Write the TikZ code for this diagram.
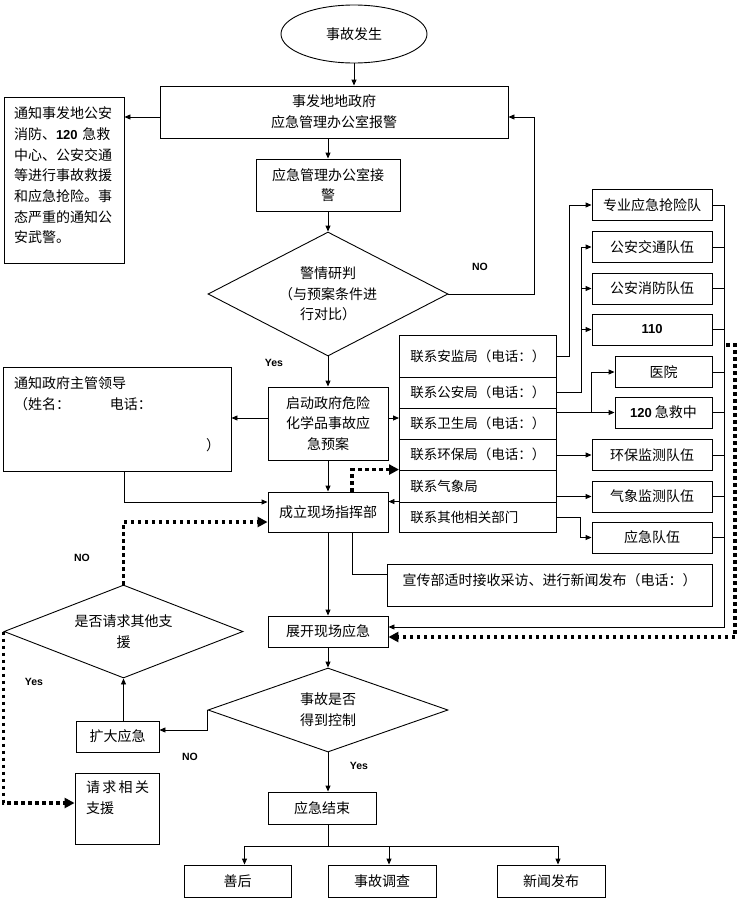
\documentclass[tikz,border=0pt]{standalone}
\usepackage{fontspec}
\setmainfont{Noto Sans CJK SC}
\newfontfamily\latin{Liberation Sans}
\usetikzlibrary{shapes.geometric,arrows.meta}

\begin{document}
\begin{tikzpicture}[x=1pt,y=-1pt,line width=0.9pt,>={Triangle[length=6pt,width=5pt]},
	font=\fontsize{14}{20.7}\selectfont,
	dotline/.style={line width=3.5pt,dash pattern=on 3.5pt off 3.5pt,-{Triangle[length=10pt,width=10pt]}},
	lbl/.style={font=\latin\bfseries\fontsize{10.5}{12}\selectfont},
	num/.style={font=\latin\bfseries\fontsize{13}{16}\selectfont}]
	\path[fill=white] (0,0) rectangle (738,900);
	
	\begin{scope}[every node/.style={draw,align=center,inner sep=2pt}]
		\node[ellipse,minimum width=146,minimum height=58] (acc) at (354,34) {事故发生};
		\node[minimum width=348,minimum height=52] (rep) at (334,112) {事发地地政府\\应急管理办公室报警};
		\node[minimum width=120,minimum height=166,text width=100,inner xsep=10,align=left] (inform) at (64,180) {通知事发地公安\\消防、{\latin\bfseries\fontsize{13}{16}\selectfont 120} 急救\\中心、公安交通\\等进行事故救援\\和应急抢险。事\\态严重的通知公\\安武警。\par\kern9pt};
		\node[minimum width=144,minimum height=52] (recv) at (328,185) {应急管理办公室接\\警};
		\node[minimum width=120,minimum height=73] (plan) at (328,423.5) {启动政府危险\\化学品事故应\\急预案};
		\node[minimum width=228,minimum height=104,text width=206,inner xsep=11,align=left] (leader) at (117,419) {通知政府主管领导\\（姓名：\hspace{40pt}电话：\\\mbox{}\\\mbox{}\hfill）\par\kern9pt};
		\node[minimum width=120,minimum height=40] (cmd) at (328,512) {成立现场指挥部};
		\node[minimum width=325,minimum height=42,text width=305,inner xsep=10,align=center] (pr) at (549.5,585) {宣传部适时接收采访、进行新闻发布（电话：）\par\kern10pt};
		\node[minimum width=120,minimum height=31] (unfold) at (328,631.5) {展开现场应急};
		\node[minimum width=83,minimum height=31] (expand) at (117.5,736.5) {扩大应急};
		\node[minimum width=84,minimum height=71,text width=62,inner xsep=11,align=left] (help) at (117,808.5) {请\,求\,相\,关\\支援\par\kern22pt};
		\node[minimum width=108,minimum height=32] (fin) at (322,808) {应急结束};
		\node[minimum width=107,minimum height=32] (sh) at (237.5,881) {善后};
		\node[minimum width=108,minimum height=32] (dc) at (382,881) {事故调查};
		\node[minimum width=108,minimum height=32] (xw) at (551,881) {新闻发布};
	\end{scope}
	
	\begin{scope}[every node/.style={draw,diamond,aspect=2,inner sep=0pt,align=center}]
		\node[minimum width=240,minimum height=124] (judge) at (328,294) {警情研判\\（与预案条件进\\行对比）};
		\node[minimum width=240,minimum height=84] (ctrl) at (328,710) {事故是否\\得到控制};
		\node[minimum width=239,minimum height=93] (ask) at (123.5,631.5) {是否请求其他支\\援};
	\end{scope}
	
	\begin{scope}[every node/.style={draw,anchor=west,minimum width=157,text width=135,inner xsep=11,align=left,font=\fontsize{13.5}{16}\selectfont}]
		\node[minimum height=42] (lAJ) at (399,356) {联系安监局（电话：）};
		\node[minimum height=31] (lGA) at (399,392.5) {联系公安局（电话：）};
		\node[minimum height=31] (lWS) at (399,423.5) {联系卫生局（电话：）};
		\node[minimum height=31] (lHB) at (399,454.5) {联系环保局（电话：）};
		\node[minimum height=32] (lQX) at (399,486) {联系气象局};
		\node[minimum height=30] (lQT) at (399,517) {联系其他相关部门};
	\end{scope}
	
	\begin{scope}[every node/.style={draw,minimum width=120,minimum height=31}]
		\node (zy) at (652,205) {专业应急抢险队};
		\node (jt) at (652,247) {公安交通队伍};
		\node (xf) at (652,288.5) {公安消防队伍};
		\node[num] (p110) at (652,329.5) {110};
		\node[minimum width=97] (yy) at (663.5,372) {医院};
		\node[minimum width=97] (jj) at (663.5,412.5) {{\latin\bfseries\fontsize{13}{16}\selectfont 120} 急救中};
		\node (hb) at (652,455) {环保监测队伍};
		\node (qx) at (652,496.5) {气象监测队伍};
		\node (yd) at (652,537.5) {应急队伍};
	\end{scope}
	
	\node[lbl] (yesA) at (274,363) {Yes};
	\node[lbl] (noA) at (480,267) {NO};
	\node[lbl] (noB) at (82,558) {NO};
	\node[lbl] (yesB) at (34,682) {Yes};
	\node[lbl] (noC) at (190,757) {NO};
	\node[lbl] (yesC) at (359,766) {Yes};
	
	\draw[->] (acc.south) -- (acc.south |- rep.north);
	\draw[->] ([yshift=-5]rep.west) -- ([yshift=-5]rep.west -| inform.east);
	\draw[->] (rep.south -| recv.north) -- (recv.north);
	\draw[->] (recv.south) -- (judge.north);
	\draw[->] (judge.east) -- ++(86,0) |- ([yshift=-5]rep.east);
	\draw[->] (judge.south) -- (plan.north);
	\draw[->] ([yshift=5.5]plan.west) -- ([yshift=5.5]plan.west -| leader.east);
	\draw[->] ([yshift=5.5]plan.east) -- ([yshift=5.5]plan.east -| lWS.west);
	\draw[->] (plan.south) -- (cmd.north);
	\draw[->] ([xshift=7]leader.south) |- ([yshift=10]cmd.west);
	\draw[dotline] ([xshift=24]cmd.north) |- (lQX.north west);
	\draw[->] (lQT.north west) -- (lQT.north west -| cmd.east);
	\draw[->] (cmd.south) -- (unfold.north);
	\draw ([xshift=24]cmd.south) |- ([yshift=11]pr.west);
	
	\draw[->] (lAJ.east) -- ++(13,0) |- (zy.west);
	\draw[->] (lGA.east) -- ++(25,0) coordinate (gaK) |- (jt.west);
	\draw[->] (gaK) |- (xf.west);
	\draw[->] (gaK) |- (p110.west);
	\draw[->] (jj.west -| lWS.east) -- (jj.west);
	\draw[->] ([xshift=-23]jj.west) |- (yy.west);
	\draw[->] (hb.west -| lHB.east) -- (hb.west);
	\draw[->] (qx.west -| lQX.east) -- (qx.west);
	\draw[->] (lQT.east) -- ++(24,0) |- (yd.west);
	
	\coordinate (busEnd) at (724,627);
	\draw[->] (zy.east) -| (busEnd) -- (busEnd -| unfold.east);
	\draw (jt.east) -- (jt.east -| busEnd);
	\draw (xf.east) -- (xf.east -| busEnd);
	\draw (p110.east) -- (p110.east -| busEnd);
	\draw (yy.east) -- (yy.east -| busEnd);
	\draw (jj.east) -- (jj.east -| busEnd);
	\draw (hb.east) -- (hb.east -| busEnd);
	\draw (qx.east) -- (qx.east -| busEnd);
	\draw (yd.east) -- (yd.east -| busEnd);
	\coordinate (dotA) at (726,345);
	\coordinate (dotB) at (735,637);
	\draw[dotline] (dotA) -| (dotB) -- (dotB -| unfold.east);
	
	\draw[->] (unfold.south) -- (ctrl.north);
	\draw[->] (ctrl.west) |- ([yshift=6.5]expand.east);
	\draw[->] (expand.north -| ask.south) -- (ask.south);
	\draw[dotline] (ask.north) |- ([yshift=-10]cmd.west);
	\draw[dotline] (ask.west) |- ([yshift=5.5]help.west);
	\draw[->] (ctrl.south) -- (ctrl.south |- fin.north);
	\draw (ctrl.south |- fin.south) -- ++(0,22) coordinate (fork);
	\draw[->] (fork) -| ([xshift=7]sh.north);
	\draw[->] (fork) -| ([xshift=7]xw.north);
	\draw[->] ([xshift=7]dc.north |- fork) -- ([xshift=7]dc.north);
\end{tikzpicture}
\end{document}
